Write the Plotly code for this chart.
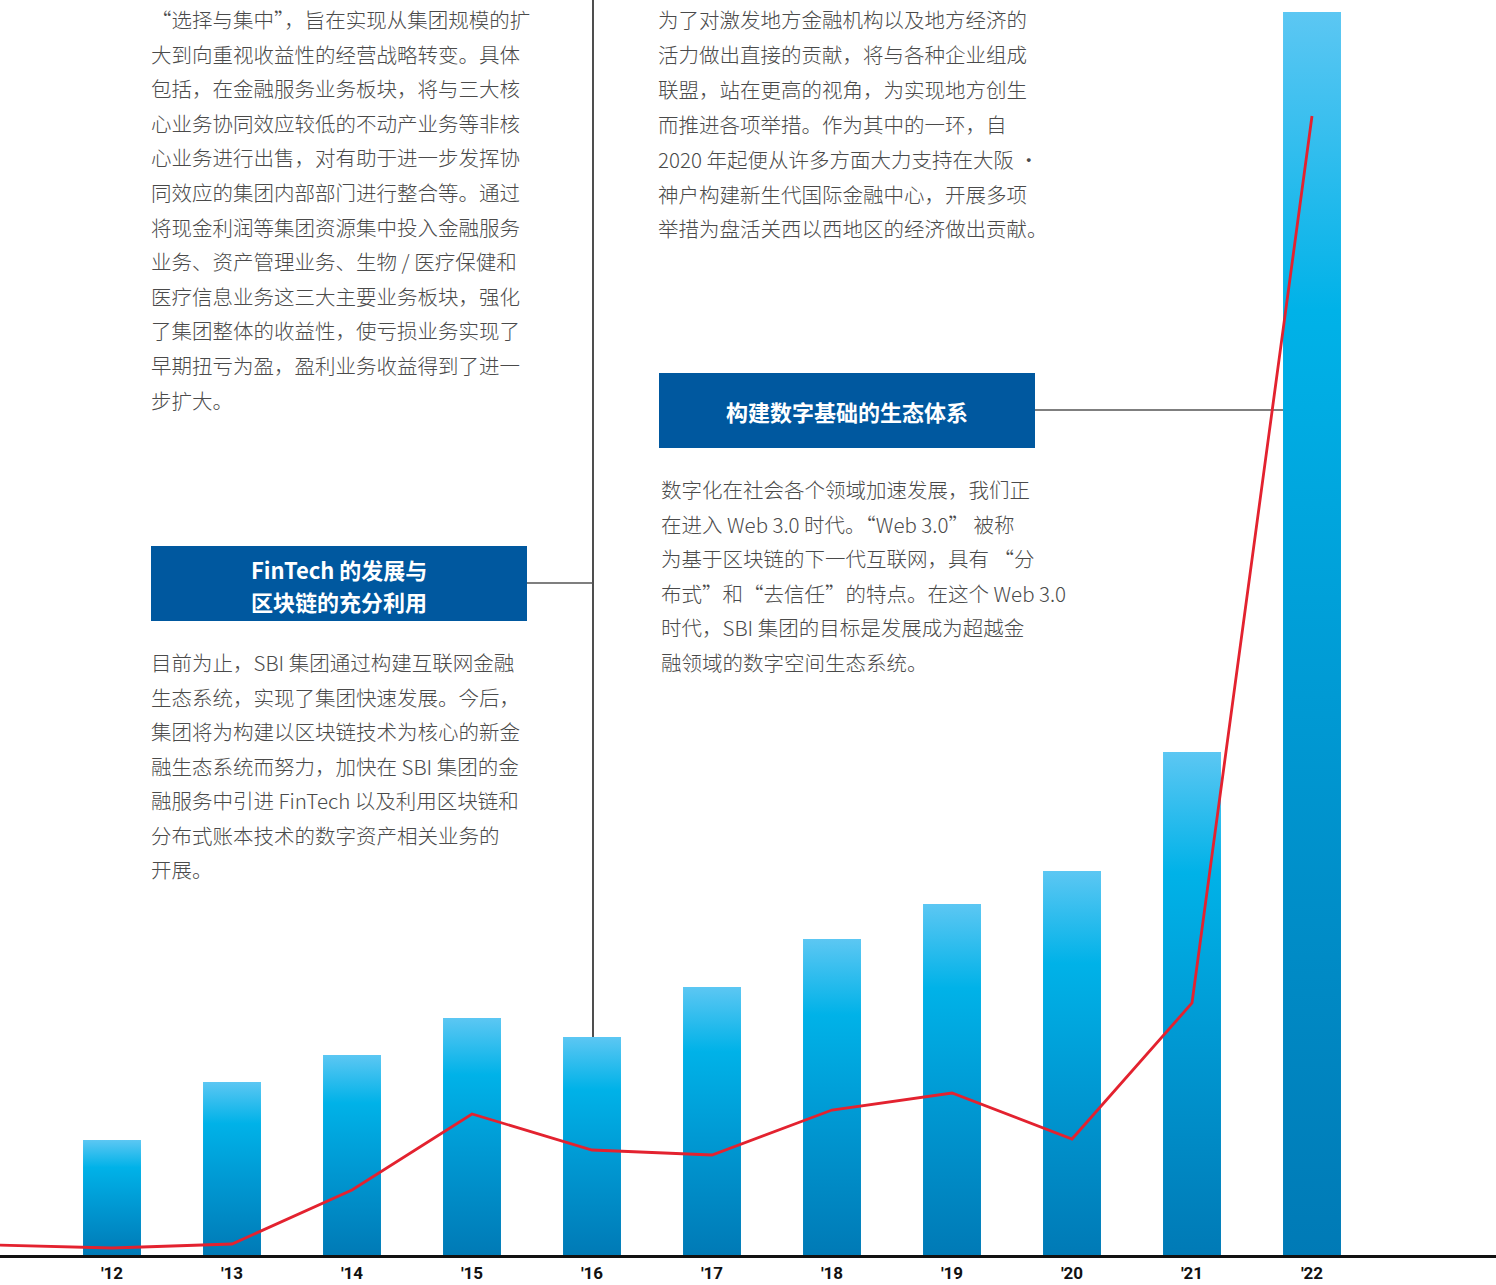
import plotly.graph_objects as go

# ---------------- data ----------------
years = [2012, 2013, 2014, 2015, 2016, 2017, 2018, 2019, 2020, 2021, 2022]
tick_labels = ["'12", "'13", "'14", "'15", "'16", "'17", "'18", "'19", "'20", "'21", "'22"]
bar_values = [115, 173, 200, 237, 218, 268, 316, 351, 384, 503, 1243]

line_years = [2011, 2012, 2013, 2014, 2015, 2016, 2017, 2018, 2019, 2020, 2021, 2022]
line_values = [10, 7, 11, 65, 141, 105, 100, 145, 162, 116, 252, 1139]

text_top_left = [
    "“选择与集中”，旨在实现从集团规模的扩",
    "大到向重视收益性的经营战略转变。具体",
    "包括，在金融服务业务板块，将与三大核",
    "心业务协同效应较低的不动产业务等非核",
    "心业务进行出售，对有助于进一步发挥协",
    "同效应的集团内部部门进行整合等。通过",
    "将现金利润等集团资源集中投入金融服务",
    "业务、资产管理业务、生物 / 医疗保健和",
    "医疗信息业务这三大主要业务板块，强化",
    "了集团整体的收益性，使亏损业务实现了",
    "早期扭亏为盈，盈利业务收益得到了进一",
    "步扩大。",
]
text_top_right = [
    "为了对激发地方金融机构以及地方经济的",
    "活力做出直接的贡献，将与各种企业组成",
    "联盟，站在更高的视角，为实现地方创生",
    "而推进各项举措。作为其中的一环，自",
    "2020 年起便从许多方面大力支持在大阪 •",
    "神户构建新生代国际金融中心，开展多项",
    "举措为盘活关西以西地区的经济做出贡献。",
]
text_bottom_left = [
    "目前为止，SBI 集团通过构建互联网金融",
    "生态系统，实现了集团快速发展。今后，",
    "集团将为构建以区块链技术为核心的新金",
    "融生态系统而努力，加快在 SBI 集团的金",
    "融服务中引进 FinTech 以及利用区块链和",
    "分布式账本技术的数字资产相关业务的",
    "开展。",
]
text_bottom_right = [
    "数字化在社会各个领域加速发展，我们正",
    "在进入 Web 3.0 时代。“Web 3.0” 被称",
    "为基于区块链的下一代互联网，具有 “分",
    "布式”和“去信任”的特点。在这个 Web 3.0",
    "时代，SBI 集团的目标是发展成为超越金",
    "融领域的数字空间生态系统。",
]
title_left = ["FinTech 的发展与", "区块链的充分利用"]
title_right = "构建数字基础的生态体系"

# ---------------- layout constants ----------------
W, H = 1496, 1285
PLOT_H = 1255  # plot area height in px (bottom margin 30)
BAR_W = 0.483
X0 = 2012 - 112 / 120.0
X1 = X0 + W / 120.0

BAR_SCALE = [[0.0, "#007AB6"], [0.45, "#009AD4"], [0.76, "#00B2E8"], [1.0, "#5CC7F3"]]
TEXT_FONT = "Noto Sans CJK SC, Noto Sans, sans-serif"


def py(ypx):
    return (PLOT_H - ypx) / PLOT_H


def px(xpx):
    return xpx / W


fig = go.Figure()

# bars with vertical gradient
for yr, v in zip(years, bar_values):
    xl, xr = yr - BAR_W / 2, yr + BAR_W / 2
    fig.add_trace(go.Scatter(
        x=[xl, xr, xr, xl, xl], y=[0, 0, v, v, 0],
        mode="lines", fill="toself", line=dict(width=0, color="rgba(0,0,0,0)"),
        fillgradient=dict(type="vertical", colorscale=BAR_SCALE, start=0, stop=v),
        hoverinfo="skip", showlegend=False,
    ))

# red line
fig.add_trace(go.Scatter(
    x=line_years, y=line_values, mode="lines",
    line=dict(color="#E3222F", width=2.8),
    hoverinfo="skip", showlegend=False,
))

annotations = []


def add_block(lines, x_left, y_first, step):
    for i, t in enumerate(lines):
        annotations.append(dict(
            x=px(x_left), y=py(y_first + i * step), xref="paper", yref="paper",
            text=t, showarrow=False, xanchor="left", yanchor="middle",
            font=dict(family=TEXT_FONT, size=20.5, color="#4a4a4a", weight=300),
        ))


add_block(text_top_left, 149, 19, 34.6)
add_block(text_top_right, 656, 19, 34.9)
add_block(text_bottom_left, 149, 662, 34.5)
add_block(text_bottom_right, 659, 489, 34.6)

shapes = []
# title boxes
shapes.append(dict(type="rect", xref="paper", yref="paper",
                   x0=px(151), x1=px(527), y0=py(621), y1=py(546),
                   fillcolor="#00589F", line=dict(width=0), layer="below"))
shapes.append(dict(type="rect", xref="paper", yref="paper",
                   x0=px(659), x1=px(1035), y0=py(448), y1=py(373),
                   fillcolor="#00589F", line=dict(width=0), layer="below"))
for t, ypix in zip(title_left, [569, 601]):
    annotations.append(dict(x=px(339), y=py(ypix), xref="paper", yref="paper",
                            text="<b>" + t + "</b>",
                            showarrow=False, xanchor="center", yanchor="middle",
                            font=dict(family=TEXT_FONT, size=22, color="white")))
annotations.append(dict(x=px(847), y=py(411), xref="paper", yref="paper",
                        text="<b>" + title_right + "</b>",
                        showarrow=False, xanchor="center", yanchor="middle",
                        font=dict(family=TEXT_FONT, size=22, color="white")))

# connector lines
shapes.append(dict(type="line", xref="paper", yref="paper",
                   x0=px(593), x1=px(593), y0=py(0), y1=py(1037),
                   line=dict(color="#222222", width=1.6), layer="below"))
shapes.append(dict(type="line", xref="paper", yref="paper",
                   x0=px(527), x1=px(593), y0=py(583), y1=py(583),
                   line=dict(color="#555555", width=1.6), layer="below"))
shapes.append(dict(type="line", xref="paper", yref="paper",
                   x0=px(1035), x1=px(1285), y0=py(410), y1=py(410),
                   line=dict(color="#555555", width=1.6), layer="below"))

fig.update_layout(
    width=W, height=H,
    margin=dict(l=0, r=0, t=0, b=H - PLOT_H, pad=0, autoexpand=False),
    paper_bgcolor="white", plot_bgcolor="white",
    showlegend=False,
    annotations=annotations, shapes=shapes,
    xaxis=dict(range=[X0, X1], tickmode="array", tickvals=years, ticktext=tick_labels,
               showgrid=False, zeroline=False, showline=True, linecolor="#111111",
               linewidth=3, ticks="", fixedrange=True, ticklabelstandoff=1,
               automargin=False,
               tickfont=dict(family="Liberation Sans Narrow, Roboto, sans-serif",
                             size=17, color="#111111", weight="bold")),
    yaxis=dict(range=[0, PLOT_H], visible=False, showgrid=False, zeroline=False,
               fixedrange=True, automargin=False),
)

fig.write_html("out.html", config={"displayModeBar": False},
               post_script="document.body.style.margin='0';")
